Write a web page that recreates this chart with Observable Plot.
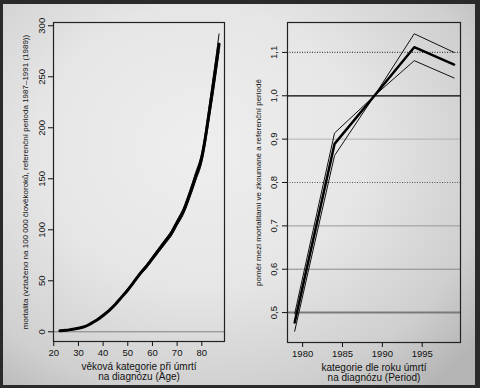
<!DOCTYPE html>
<html>
<head>
<meta charset="utf-8">
<script src="https://cdn.jsdelivr.net/npm/d3@7"></script>
<script src="https://cdn.jsdelivr.net/npm/@observablehq/plot@0.6"></script>
<style>
  html, body { margin: 0; padding: 0; background: #fff; }
  #wrap {
    position: relative; width: 480px; height: 388px; overflow: hidden;
    background: radial-gradient(ellipse 75% 80% at 42% 38%, #eeeeee 0%, #e6e6e6 45%, #cfcfcf 80%, #b4b4b4 100%);
    font-family: "Liberation Sans", Arial, sans-serif;
  }
  #left, #right { position: absolute; top: 0; }
  #left { left: 0; }
  #right { left: 240px; }
  #border {
    position: absolute; inset: 0; box-sizing: border-box; pointer-events: none;
    border-style: solid; border-color: #2a2a2a;
    border-width: 4px 5px 3px 3px;
  }
</style>
</head>
<body>
<div id="wrap">
  <div id="left"></div>
  <div id="right"></div>
  <div id="border"></div>
</div>
<script>
// ---- Left panel data (Age effect) ----
const ages = [22.5, 25, 27.5, 30, 32.5, 35, 37.5, 40, 42.5, 45, 47.5, 50, 52.5, 55, 57.5, 60, 62.5, 65, 67.5, 70, 72.5, 75, 77.5, 80, 81.5, 82.5, 85, 87];
const rate = [1, 1.5, 2.5, 3.5, 5, 8, 11.5, 16, 21, 27, 34, 41, 49, 57, 64, 72, 80, 88, 96, 107, 118, 134, 152, 171, 191, 207, 248, 282];
const rateHigh = [1, 1.5, 2.6, 3.6, 5.2, 8.2, 11.8, 16.4, 21.5, 27.6, 34.8, 42, 50.2, 58.4, 65.6, 73.8, 82, 90.2, 98.4, 109.6, 121, 137.5, 156, 175.5, 196, 213, 256, 292];
const rateLow = [1, 1.5, 2.4, 3.4, 4.8, 7.8, 11.2, 15.6, 20.5, 26.4, 33.2, 40, 47.8, 55.6, 62.4, 70.2, 78, 85.8, 93.6, 104.4, 115, 130.5, 148, 166.5, 186, 201, 240, 275];
const ageTicks = [20, 30, 40, 50, 60, 70, 80];
const rateTicks = [0, 50, 100, 150, 200, 250, 300];

// ---- Right panel data (Period effect) ----
const years = [1979, 1984, 1989, 1994, 1999];
const rr = [0.477, 0.889, 1.0, 1.112, 1.072];
const rrLow = [0.457, 0.862, 1.0, 1.081, 1.041];
const rrHigh = [0.497, 0.914, 1.0, 1.143, 1.100];
const yearTicks = [1980, 1985, 1990, 1995];
const rrTicks = [0.5, 0.6, 0.7, 0.8, 0.9, 1.0, 1.1];

// ---- Texts ----
const leftXTitle = "věková kategorie při úmrtí\nna diagnózu (Age)";
const leftYTitle = "mortalita (vztaženo na 100 000 člověkoroků, referenční perioda 1987–1991 (1989))";
const rightXTitle = "kategorie dle roku úmrtí\nna diagnózu (Period)";
const rightYTitle = "poměr mezi mortalitami ve zkoumané a referenční periodě";

const font = "'Liberation Sans', Arial, Helvetica, sans-serif";
const toRows = (xs, ys) => xs.map((x, i) => ({x, y: ys[i]}));
const comma = d => d.toFixed(1).replace(".", ",");

const left = Plot.plot({
  width: 240, height: 388,
  marginLeft: 53, marginRight: 16, marginTop: 22, marginBottom: 47,
  style: {background: "transparent", fontFamily: font, fontSize: "9.5px", color: "#111", overflow: "visible"},
  x: {domain: [19.9, 89.2]},
  y: {domain: [-9.5, 303.2]},
  marks: [
    Plot.ruleY([0], {stroke: "#808080", strokeWidth: 1}),
    Plot.line(toRows(ages, rateLow), {x: "x", y: "y", stroke: "#111", strokeWidth: 1, curve: "monotone-x"}),
    Plot.line(toRows(ages, rateHigh), {x: "x", y: "y", stroke: "#111", strokeWidth: 1, curve: "monotone-x"}),
    Plot.line(toRows(ages, rate), {x: "x", y: "y", stroke: "#000", strokeWidth: 3, curve: "monotone-x"}),
    Plot.frame({stroke: "#222", strokeWidth: 1.2}),
    Plot.axisX({ticks: ageTicks, tickSize: 5, tickPadding: 3, label: null, fontSize: 9.5}),
    Plot.axisY({ticks: rateTicks, tickSize: 5, tickPadding: 4, tickRotate: -90, label: null, fontSize: 9.5}),
    Plot.text([leftXTitle], {frameAnchor: "bottom", lineAnchor: "top", dy: 21, fontSize: 10, lineHeight: 1.05}),
    Plot.text([leftYTitle], {frameAnchor: "left", textAnchor: "middle", rotate: -90, dx: -28, fontSize: 8})
  ]
});

const right = Plot.plot({
  width: 240, height: 388,
  marginLeft: 47, marginRight: 20, marginTop: 22, marginBottom: 46,
  style: {background: "transparent", fontFamily: font, fontSize: "9.5px", color: "#111", overflow: "visible"},
  x: {domain: [1978.1, 1999.8]},
  y: {domain: [0.431, 1.169]},
  marks: [
    Plot.ruleY([0.5], {stroke: "#7a7a7a", strokeWidth: 2}),
    Plot.ruleY([0.6], {stroke: "#8a8a8a", strokeWidth: 1}),
    Plot.ruleY([0.7], {stroke: "#9a9a9a", strokeWidth: 1}),
    Plot.ruleY([0.8], {stroke: "#555", strokeWidth: 1, strokeDasharray: "1,1.5"}),
    Plot.ruleY([0.9], {stroke: "#b0b0b0", strokeWidth: 1}),
    Plot.ruleY([1.0], {stroke: "#000", strokeWidth: 1.2}),
    Plot.ruleY([1.1], {stroke: "#444", strokeWidth: 1.2, strokeDasharray: "1,1.5"}),
    Plot.line(toRows(years, rrLow), {x: "x", y: "y", stroke: "#111", strokeWidth: 1}),
    Plot.line(toRows(years, rrHigh), {x: "x", y: "y", stroke: "#111", strokeWidth: 1}),
    Plot.line(toRows(years, rr), {x: "x", y: "y", stroke: "#000", strokeWidth: 2.5}),
    Plot.frame({stroke: "#222", strokeWidth: 1.2}),
    Plot.axisX({ticks: yearTicks, tickSize: 5, tickPadding: 3, label: null, fontSize: 9.5, tickFormat: d => String(d)}),
    Plot.axisY({ticks: rrTicks, tickSize: 5, tickPadding: 6, tickRotate: -90, label: null, fontSize: 9.5, tickFormat: comma}),
    Plot.text([rightXTitle], {frameAnchor: "bottom", lineAnchor: "top", dy: 21, fontSize: 10, lineHeight: 1.05}),
    Plot.text([rightYTitle], {frameAnchor: "left", textAnchor: "middle", rotate: -90, dx: -29, fontSize: 8})
  ]
});

document.getElementById("left").appendChild(left);
document.getElementById("right").appendChild(right);
</script>
</body>
</html>
